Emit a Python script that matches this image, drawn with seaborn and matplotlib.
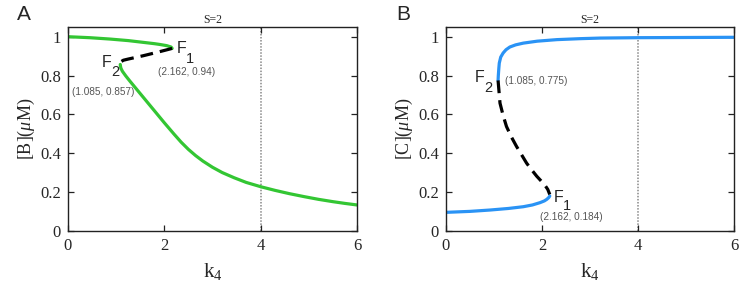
import matplotlib
matplotlib.use("Agg")
import matplotlib.pyplot as plt
import seaborn as sns
import pandas as pd

# panel A: [B] vs k4
a_up_k4 = [0.0, 0.45, 0.87, 1.25, 1.56, 1.8, 1.91, 2.05, 2.14, 2.162]
a_up_b = [1.0, 0.995, 0.988, 0.98, 0.971, 0.964, 0.96, 0.954, 0.947, 0.94]
a_dash_k4 = [2.162, 2.12, 1.84, 1.56, 1.25, 1.15, 1.11, 1.09, 1.085]
a_dash_b = [0.94, 0.937, 0.919, 0.902, 0.885, 0.879, 0.873, 0.866, 0.857]
a_low_k4 = [1.085, 1.09, 1.1, 1.13, 1.2, 1.29, 1.45, 1.6, 1.8, 2.0, 2.2, 2.35, 2.5, 2.65,
            2.8, 3.0, 3.2, 3.45, 3.7, 4.0, 4.3, 4.6, 4.9, 5.2, 5.5, 5.75, 6.0]
a_low_b = [0.857, 0.847, 0.837, 0.822, 0.798, 0.77, 0.722, 0.677, 0.617, 0.557, 0.499, 0.457,
           0.42, 0.388, 0.36, 0.328, 0.301, 0.274, 0.25, 0.228, 0.209, 0.192, 0.177, 0.163,
           0.151, 0.142, 0.134]

# panel B: [C] vs k4
b_up_k4 = [1.085, 1.09, 1.1, 1.11, 1.14, 1.19, 1.25, 1.33, 1.45, 1.61, 1.9, 2.31, 2.8, 3.21, 4.0, 5.0, 6.0]
b_up_c = [0.775, 0.8, 0.835, 0.864, 0.895, 0.916, 0.933, 0.947, 0.958, 0.967, 0.977, 0.985, 0.99, 0.993, 0.995, 0.996, 0.997]
b_dash_k4 = [1.085, 1.09, 1.125, 1.19, 1.26, 1.36, 1.47, 1.58, 1.68, 1.79, 1.89, 1.98, 2.06, 2.12, 2.162]
b_dash_c = [0.775, 0.76, 0.658, 0.595, 0.538, 0.485, 0.435, 0.39, 0.349, 0.313, 0.282, 0.258, 0.236, 0.214, 0.188]
b_low_k4 = [0.0, 0.5, 0.92, 1.3, 1.61, 1.8, 1.96, 2.05, 2.1, 2.14, 2.162]
b_low_c = [0.096, 0.101, 0.108, 0.116, 0.125, 0.134, 0.146, 0.155, 0.163, 0.172, 0.18]

k4_mark = 4
x_ticks = [0, 2, 4, 6]
y_ticks = [0, 0.2, 0.4, 0.6, 0.8, 1]
y_tick_labels = ["0", "0.2", "0.4", "0.6", "0.8", "1"]

sns.set_style("ticks")
plt.rcParams["font.family"] = ["Liberation Serif", "DejaVu Serif"]
plt.rcParams["mathtext.fontset"] = "custom"
plt.rcParams["mathtext.rm"] = "Liberation Serif"
plt.rcParams["mathtext.it"] = "Liberation Serif:italic"

green = "#33c633"
blue = "#2a93f5"
gray = "#555555"
sans = ["Liberation Sans", "DejaVu Sans"]

fig = plt.figure(figsize=(7.51, 3.01), dpi=100)
axA = fig.add_axes([68 / 751, 70 / 301, 289 / 751, 204 / 301])
axB = fig.add_axes([446 / 751, 70 / 301, 288 / 751, 204 / 301])


def curve(ax, xs, ys, color, dashed=False):
    df = pd.DataFrame({"x": xs, "y": ys})
    sns.lineplot(data=df, x="x", y="y", ax=ax, sort=False, color=color,
                 linewidth=2.3, estimator=None)
    line = ax.lines[-1]
    line.set_solid_joinstyle("round")
    line.set_solid_capstyle("round")
    if dashed:
        line.set_dashes([4, 2.2])


def style(ax, ylabel):
    ax.axvline(k4_mark, color="#888888", linestyle=(0, (1, 1)), linewidth=1.1, zorder=0)
    ax.set_xlim(0, 6)
    ax.set_ylim(0, 1.05)
    ax.set_xticks(x_ticks)
    ax.set_xticklabels([str(t) for t in x_ticks])
    ax.set_yticks(y_ticks)
    ax.set_yticklabels(y_tick_labels)
    ax.tick_params(direction="in", top=True, right=True, labelsize=12, length=4,
                   width=0.9, color="#222222", pad=5)
    for s in ax.spines.values():
        s.set_linewidth(1.0)
        s.set_color("#222222")
    ax.set_xlabel(r"k$_4$", fontsize=15, labelpad=5)
    ax.set_ylabel(ylabel, fontsize=13, labelpad=2)
    ax.set_title("S=2", fontsize=8.5, pad=3)


def flabel(ax, fx, fy, sx, sy, sub):
    ax.text(fx, fy, "F", fontsize=11.5, family=sans, ha="center", va="center")
    ax.text(sx, sy, sub, fontsize=10.5, family=sans, ha="center", va="center")


# panel A
curve(axA, a_up_k4, a_up_b, green)
curve(axA, a_low_k4, a_low_b, green)
curve(axA, a_dash_k4, a_dash_b, "black", dashed=True)
style(axA, r"[B]($\mu$M)")
flabel(axA, 2.36, 0.938, 2.54, 0.885, "1")
flabel(axA, 0.80, 0.869, 0.98, 0.818, "2")
axA.text(2.47, 0.817, "(2.162, 0.94)", fontsize=7.2, family=sans, color=gray, ha="center", va="center")
axA.text(0.737, 0.714, "(1.085, 0.857)", fontsize=7.2, family=sans, color=gray, ha="center", va="center")

# panel B
curve(axB, b_up_k4, b_up_c, blue)
curve(axB, b_low_k4, b_low_c, blue)
curve(axB, b_dash_k4, b_dash_c, "black", dashed=True)
style(axB, r"[C]($\mu$M)")
flabel(axB, 0.71, 0.791, 0.89, 0.738, "2")
axB.text(1.885, 0.771, "(1.085, 0.775)", fontsize=7.2, family=sans, color=gray, ha="center", va="center")
flabel(axB, 2.34, 0.175, 2.52, 0.13, "1")
axB.text(2.604, 0.07, "(2.162, 0.184)", fontsize=7.2, family=sans, color=gray, ha="center", va="center")

fig.text(24 / 751, 1 - 15 / 301, "A", fontsize=15, family=sans, ha="center", va="center")
fig.text(403 / 751, 1 - 15 / 301, "B", fontsize=15, family=sans, ha="center", va="center")

fig.savefig("out.png", dpi=100)
